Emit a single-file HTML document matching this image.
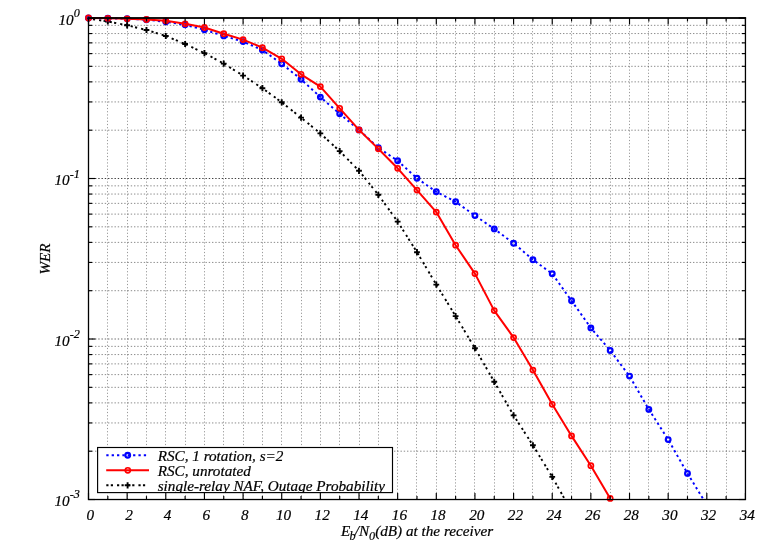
<!DOCTYPE html><html><head><meta charset="utf-8"><style>
html,body{margin:0;padding:0;background:#fff;}
svg{display:block;position:absolute;left:0;top:0;will-change:transform;}
text{font-family:"Liberation Serif",serif;font-style:italic;fill:#000;stroke:#000;stroke-width:0.2px;}
</style></head><body>
<svg width="771" height="540" viewBox="0 0 771 540">
<rect x="0" y="0" width="771" height="540" fill="#fff"/>
<g stroke="#000" stroke-width="0.46" stroke-dasharray="1.4 1.85" fill="none">
<line x1="107.50" y1="499.52" x2="107.50" y2="18.00" stroke-dasharray="1.2 2.0" stroke-width="0.4"/>
<line x1="127.50" y1="499.52" x2="127.50" y2="18.00" stroke-dasharray="1.2 2.0" stroke-width="0.4"/>
<line x1="146.50" y1="499.52" x2="146.50" y2="18.00" stroke-dasharray="1.2 2.0" stroke-width="0.4"/>
<line x1="165.50" y1="499.52" x2="165.50" y2="18.00" stroke-dasharray="1.2 2.0" stroke-width="0.4"/>
<line x1="185.50" y1="499.52" x2="185.50" y2="18.00" stroke-dasharray="1.2 2.0" stroke-width="0.4"/>
<line x1="204.50" y1="499.52" x2="204.50" y2="18.00" stroke-dasharray="1.2 2.0" stroke-width="0.4"/>
<line x1="223.50" y1="499.52" x2="223.50" y2="18.00" stroke-dasharray="1.2 2.0" stroke-width="0.4"/>
<line x1="243.50" y1="499.52" x2="243.50" y2="18.00" stroke-dasharray="1.2 2.0" stroke-width="0.4"/>
<line x1="262.50" y1="499.52" x2="262.50" y2="18.00" stroke-dasharray="1.2 2.0" stroke-width="0.4"/>
<line x1="281.50" y1="499.52" x2="281.50" y2="18.00" stroke-dasharray="1.2 2.0" stroke-width="0.4"/>
<line x1="301.50" y1="499.52" x2="301.50" y2="18.00" stroke-dasharray="1.2 2.0" stroke-width="0.4"/>
<line x1="320.50" y1="499.52" x2="320.50" y2="18.00" stroke-dasharray="1.2 2.0" stroke-width="0.4"/>
<line x1="339.50" y1="499.52" x2="339.50" y2="18.00" stroke-dasharray="1.2 2.0" stroke-width="0.4"/>
<line x1="359.50" y1="499.52" x2="359.50" y2="18.00" stroke-dasharray="1.2 2.0" stroke-width="0.4"/>
<line x1="378.50" y1="499.52" x2="378.50" y2="18.00" stroke-dasharray="1.2 2.0" stroke-width="0.4"/>
<line x1="397.50" y1="499.52" x2="397.50" y2="18.00" stroke-dasharray="1.2 2.0" stroke-width="0.4"/>
<line x1="416.50" y1="499.52" x2="416.50" y2="18.00" stroke-dasharray="1.2 2.0" stroke-width="0.4"/>
<line x1="436.50" y1="499.52" x2="436.50" y2="18.00" stroke-dasharray="1.2 2.0" stroke-width="0.4"/>
<line x1="455.50" y1="499.52" x2="455.50" y2="18.00" stroke-dasharray="1.2 2.0" stroke-width="0.4"/>
<line x1="474.50" y1="499.52" x2="474.50" y2="18.00" stroke-dasharray="1.2 2.0" stroke-width="0.4"/>
<line x1="494.50" y1="499.52" x2="494.50" y2="18.00" stroke-dasharray="1.2 2.0" stroke-width="0.4"/>
<line x1="513.50" y1="499.52" x2="513.50" y2="18.00" stroke-dasharray="1.2 2.0" stroke-width="0.4"/>
<line x1="532.50" y1="499.52" x2="532.50" y2="18.00" stroke-dasharray="1.2 2.0" stroke-width="0.4"/>
<line x1="552.50" y1="499.52" x2="552.50" y2="18.00" stroke-dasharray="1.2 2.0" stroke-width="0.4"/>
<line x1="571.50" y1="499.52" x2="571.50" y2="18.00" stroke-dasharray="1.2 2.0" stroke-width="0.4"/>
<line x1="590.50" y1="499.52" x2="590.50" y2="18.00" stroke-dasharray="1.2 2.0" stroke-width="0.4"/>
<line x1="610.50" y1="499.52" x2="610.50" y2="18.00" stroke-dasharray="1.2 2.0" stroke-width="0.4"/>
<line x1="629.50" y1="499.52" x2="629.50" y2="18.00" stroke-dasharray="1.2 2.0" stroke-width="0.4"/>
<line x1="648.50" y1="499.52" x2="648.50" y2="18.00" stroke-dasharray="1.2 2.0" stroke-width="0.4"/>
<line x1="668.50" y1="499.52" x2="668.50" y2="18.00" stroke-dasharray="1.2 2.0" stroke-width="0.4"/>
<line x1="687.50" y1="499.52" x2="687.50" y2="18.00" stroke-dasharray="1.2 2.0" stroke-width="0.4"/>
<line x1="706.50" y1="499.52" x2="706.50" y2="18.00" stroke-dasharray="1.2 2.0" stroke-width="0.4"/>
<line x1="726.50" y1="499.52" x2="726.50" y2="18.00" stroke-dasharray="1.2 2.0" stroke-width="0.4"/>
<line x1="88.50" y1="130.19" x2="745.45" y2="130.19"/>
<line x1="88.50" y1="101.93" x2="745.45" y2="101.93"/>
<line x1="88.50" y1="81.87" x2="745.45" y2="81.87"/>
<line x1="88.50" y1="66.32" x2="745.45" y2="66.32"/>
<line x1="88.50" y1="53.61" x2="745.45" y2="53.61"/>
<line x1="88.50" y1="42.86" x2="745.45" y2="42.86"/>
<line x1="88.50" y1="33.55" x2="745.45" y2="33.55"/>
<line x1="88.50" y1="25.34" x2="745.45" y2="25.34"/>
<line x1="88.50" y1="290.70" x2="745.45" y2="290.70"/>
<line x1="88.50" y1="262.43" x2="745.45" y2="262.43"/>
<line x1="88.50" y1="242.38" x2="745.45" y2="242.38"/>
<line x1="88.50" y1="226.82" x2="745.45" y2="226.82"/>
<line x1="88.50" y1="214.11" x2="745.45" y2="214.11"/>
<line x1="88.50" y1="203.37" x2="745.45" y2="203.37"/>
<line x1="88.50" y1="194.06" x2="745.45" y2="194.06"/>
<line x1="88.50" y1="185.85" x2="745.45" y2="185.85"/>
<line x1="88.50" y1="451.20" x2="745.45" y2="451.20"/>
<line x1="88.50" y1="422.94" x2="745.45" y2="422.94"/>
<line x1="88.50" y1="402.89" x2="745.45" y2="402.89"/>
<line x1="88.50" y1="387.33" x2="745.45" y2="387.33"/>
<line x1="88.50" y1="374.62" x2="745.45" y2="374.62"/>
<line x1="88.50" y1="363.88" x2="745.45" y2="363.88"/>
<line x1="88.50" y1="354.57" x2="745.45" y2="354.57"/>
<line x1="88.50" y1="346.36" x2="745.45" y2="346.36"/>
</g>
<g stroke="#000" stroke-width="0.75" stroke-dasharray="1.4 1.85" fill="none">
<line x1="88.50" y1="178.51" x2="745.45" y2="178.51"/>
<line x1="88.50" y1="339.01" x2="745.45" y2="339.01" stroke-width="0.6"/>
</g>
<polyline points="88.50,18.50 107.82,21.50 127.14,25.30 146.47,30.00 165.79,36.00 185.11,44.00 204.43,53.10 223.75,63.60 243.08,75.60 262.40,88.20 281.72,102.30 301.04,117.60 320.36,133.40 339.69,151.10 359.01,170.80 378.33,194.80 397.65,221.60 416.98,252.20 436.30,284.60 455.62,316.10 474.94,348.20 494.26,381.80 513.59,415.40 532.91,445.30 552.23,476.90 564.90,499.50" fill="none" stroke="#000" stroke-width="1.9" stroke-dasharray="2.2 2.3 2.2 4.015" stroke-dashoffset="0"/>
<path d="M85.60 18.50H91.40M88.50 15.40V21.60" stroke="#000" stroke-width="1.9" fill="none"/>
<path d="M104.92 21.50H110.72M107.82 18.40V24.60" stroke="#000" stroke-width="1.9" fill="none"/>
<path d="M124.24 25.30H130.04M127.14 22.20V28.40" stroke="#000" stroke-width="1.9" fill="none"/>
<path d="M143.57 30.00H149.37M146.47 26.90V33.10" stroke="#000" stroke-width="1.9" fill="none"/>
<path d="M162.89 36.00H168.69M165.79 32.90V39.10" stroke="#000" stroke-width="1.9" fill="none"/>
<path d="M182.21 44.00H188.01M185.11 40.90V47.10" stroke="#000" stroke-width="1.9" fill="none"/>
<path d="M201.53 53.10H207.33M204.43 50.00V56.20" stroke="#000" stroke-width="1.9" fill="none"/>
<path d="M220.85 63.60H226.65M223.75 60.50V66.70" stroke="#000" stroke-width="1.9" fill="none"/>
<path d="M240.18 75.60H245.98M243.08 72.50V78.70" stroke="#000" stroke-width="1.9" fill="none"/>
<path d="M259.50 88.20H265.30M262.40 85.10V91.30" stroke="#000" stroke-width="1.9" fill="none"/>
<path d="M278.82 102.30H284.62M281.72 99.20V105.40" stroke="#000" stroke-width="1.9" fill="none"/>
<path d="M298.14 117.60H303.94M301.04 114.50V120.70" stroke="#000" stroke-width="1.9" fill="none"/>
<path d="M317.46 133.40H323.26M320.36 130.30V136.50" stroke="#000" stroke-width="1.9" fill="none"/>
<path d="M336.79 151.10H342.59M339.69 148.00V154.20" stroke="#000" stroke-width="1.9" fill="none"/>
<path d="M356.11 170.80H361.91M359.01 167.70V173.90" stroke="#000" stroke-width="1.9" fill="none"/>
<path d="M375.43 194.80H381.23M378.33 191.70V197.90" stroke="#000" stroke-width="1.9" fill="none"/>
<path d="M394.75 221.60H400.55M397.65 218.50V224.70" stroke="#000" stroke-width="1.9" fill="none"/>
<path d="M414.08 252.20H419.88M416.98 249.10V255.30" stroke="#000" stroke-width="1.9" fill="none"/>
<path d="M433.40 284.60H439.20M436.30 281.50V287.70" stroke="#000" stroke-width="1.9" fill="none"/>
<path d="M452.72 316.10H458.52M455.62 313.00V319.20" stroke="#000" stroke-width="1.9" fill="none"/>
<path d="M472.04 348.20H477.84M474.94 345.10V351.30" stroke="#000" stroke-width="1.9" fill="none"/>
<path d="M491.36 381.80H497.16M494.26 378.70V384.90" stroke="#000" stroke-width="1.9" fill="none"/>
<path d="M510.69 415.40H516.49M513.59 412.30V418.50" stroke="#000" stroke-width="1.9" fill="none"/>
<path d="M530.01 445.30H535.81M532.91 442.20V448.40" stroke="#000" stroke-width="1.9" fill="none"/>
<path d="M549.33 476.90H555.13M552.23 473.80V480.00" stroke="#000" stroke-width="1.9" fill="none"/>
<polyline points="88.50,18.00 107.82,18.30 127.14,18.80 146.47,19.70 165.79,21.80 185.11,24.80 204.43,29.80 223.75,35.90 243.08,41.60 262.40,50.00 281.72,63.80 301.04,79.30 320.36,97.10 339.69,113.80 359.01,129.90 378.33,147.70 397.65,160.80 416.98,178.30 436.30,191.80 455.62,201.80 474.94,215.60 494.26,228.90 513.59,243.30 532.91,259.70 552.23,273.80 571.55,300.80 590.87,327.90 610.20,350.50 629.52,376.10 648.84,409.40 668.16,439.60 687.48,473.40 703.50,499.50" fill="none" stroke="#0000ff" stroke-width="1.95" stroke-dasharray="2.3 3.056" stroke-dashoffset="0.2"/>
<circle cx="88.50" cy="18.00" r="2.35" fill="none" stroke="#0000ff" stroke-width="2.2"/>
<circle cx="107.82" cy="18.30" r="2.35" fill="none" stroke="#0000ff" stroke-width="2.2"/>
<circle cx="127.14" cy="18.80" r="2.35" fill="none" stroke="#0000ff" stroke-width="2.2"/>
<circle cx="146.47" cy="19.70" r="2.35" fill="none" stroke="#0000ff" stroke-width="2.2"/>
<circle cx="165.79" cy="21.80" r="2.35" fill="none" stroke="#0000ff" stroke-width="2.2"/>
<circle cx="185.11" cy="24.80" r="2.35" fill="none" stroke="#0000ff" stroke-width="2.2"/>
<circle cx="204.43" cy="29.80" r="2.35" fill="none" stroke="#0000ff" stroke-width="2.2"/>
<circle cx="223.75" cy="35.90" r="2.35" fill="none" stroke="#0000ff" stroke-width="2.2"/>
<circle cx="243.08" cy="41.60" r="2.35" fill="none" stroke="#0000ff" stroke-width="2.2"/>
<circle cx="262.40" cy="50.00" r="2.35" fill="none" stroke="#0000ff" stroke-width="2.2"/>
<circle cx="281.72" cy="63.80" r="2.35" fill="none" stroke="#0000ff" stroke-width="2.2"/>
<circle cx="301.04" cy="79.30" r="2.35" fill="none" stroke="#0000ff" stroke-width="2.2"/>
<circle cx="320.36" cy="97.10" r="2.35" fill="none" stroke="#0000ff" stroke-width="2.2"/>
<circle cx="339.69" cy="113.80" r="2.35" fill="none" stroke="#0000ff" stroke-width="2.2"/>
<circle cx="359.01" cy="129.90" r="2.35" fill="none" stroke="#0000ff" stroke-width="2.2"/>
<circle cx="378.33" cy="147.70" r="2.35" fill="none" stroke="#0000ff" stroke-width="2.2"/>
<circle cx="397.65" cy="160.80" r="2.35" fill="none" stroke="#0000ff" stroke-width="2.2"/>
<circle cx="416.98" cy="178.30" r="2.35" fill="none" stroke="#0000ff" stroke-width="2.2"/>
<circle cx="436.30" cy="191.80" r="2.35" fill="none" stroke="#0000ff" stroke-width="2.2"/>
<circle cx="455.62" cy="201.80" r="2.35" fill="none" stroke="#0000ff" stroke-width="2.2"/>
<circle cx="474.94" cy="215.60" r="2.35" fill="none" stroke="#0000ff" stroke-width="2.2"/>
<circle cx="494.26" cy="228.90" r="2.35" fill="none" stroke="#0000ff" stroke-width="2.2"/>
<circle cx="513.59" cy="243.30" r="2.35" fill="none" stroke="#0000ff" stroke-width="2.2"/>
<circle cx="532.91" cy="259.70" r="2.35" fill="none" stroke="#0000ff" stroke-width="2.2"/>
<circle cx="552.23" cy="273.80" r="2.35" fill="none" stroke="#0000ff" stroke-width="2.2"/>
<circle cx="571.55" cy="300.80" r="2.35" fill="none" stroke="#0000ff" stroke-width="2.2"/>
<circle cx="590.87" cy="327.90" r="2.35" fill="none" stroke="#0000ff" stroke-width="2.2"/>
<circle cx="610.20" cy="350.50" r="2.35" fill="none" stroke="#0000ff" stroke-width="2.2"/>
<circle cx="629.52" cy="376.10" r="2.35" fill="none" stroke="#0000ff" stroke-width="2.2"/>
<circle cx="648.84" cy="409.40" r="2.35" fill="none" stroke="#0000ff" stroke-width="2.2"/>
<circle cx="668.16" cy="439.60" r="2.35" fill="none" stroke="#0000ff" stroke-width="2.2"/>
<circle cx="687.48" cy="473.40" r="2.35" fill="none" stroke="#0000ff" stroke-width="2.2"/>
<polyline points="88.50,18.00 107.82,18.30 127.14,18.80 146.47,19.50 165.79,20.80 185.11,23.80 204.43,27.50 223.75,33.70 243.08,39.60 262.40,47.70 281.72,58.80 301.04,74.30 320.36,86.60 339.69,108.30 359.01,129.90 378.33,148.80 397.65,168.30 416.98,190.10 436.30,212.10 455.62,245.20 474.94,273.60 494.26,310.60 513.59,337.60 532.91,370.10 552.23,404.30 571.55,435.90 590.87,465.70 610.20,498.40" fill="none" stroke="#ff0000" stroke-width="2.0" stroke-linejoin="round"/>
<circle cx="88.50" cy="18.00" r="2.55" fill="none" stroke="#ff0000" stroke-width="1.7"/>
<circle cx="107.82" cy="18.30" r="2.55" fill="none" stroke="#ff0000" stroke-width="1.7"/>
<circle cx="127.14" cy="18.80" r="2.55" fill="none" stroke="#ff0000" stroke-width="1.7"/>
<circle cx="146.47" cy="19.50" r="2.55" fill="none" stroke="#ff0000" stroke-width="1.7"/>
<circle cx="165.79" cy="20.80" r="2.55" fill="none" stroke="#ff0000" stroke-width="1.7"/>
<circle cx="185.11" cy="23.80" r="2.55" fill="none" stroke="#ff0000" stroke-width="1.7"/>
<circle cx="204.43" cy="27.50" r="2.55" fill="none" stroke="#ff0000" stroke-width="1.7"/>
<circle cx="223.75" cy="33.70" r="2.55" fill="none" stroke="#ff0000" stroke-width="1.7"/>
<circle cx="243.08" cy="39.60" r="2.55" fill="none" stroke="#ff0000" stroke-width="1.7"/>
<circle cx="262.40" cy="47.70" r="2.55" fill="none" stroke="#ff0000" stroke-width="1.7"/>
<circle cx="281.72" cy="58.80" r="2.55" fill="none" stroke="#ff0000" stroke-width="1.7"/>
<circle cx="301.04" cy="74.30" r="2.55" fill="none" stroke="#ff0000" stroke-width="1.7"/>
<circle cx="320.36" cy="86.60" r="2.55" fill="none" stroke="#ff0000" stroke-width="1.7"/>
<circle cx="339.69" cy="108.30" r="2.55" fill="none" stroke="#ff0000" stroke-width="1.7"/>
<circle cx="359.01" cy="129.90" r="2.55" fill="none" stroke="#ff0000" stroke-width="1.7"/>
<circle cx="378.33" cy="148.80" r="2.55" fill="none" stroke="#ff0000" stroke-width="1.7"/>
<circle cx="397.65" cy="168.30" r="2.55" fill="none" stroke="#ff0000" stroke-width="1.7"/>
<circle cx="416.98" cy="190.10" r="2.55" fill="none" stroke="#ff0000" stroke-width="1.7"/>
<circle cx="436.30" cy="212.10" r="2.55" fill="none" stroke="#ff0000" stroke-width="1.7"/>
<circle cx="455.62" cy="245.20" r="2.55" fill="none" stroke="#ff0000" stroke-width="1.7"/>
<circle cx="474.94" cy="273.60" r="2.55" fill="none" stroke="#ff0000" stroke-width="1.7"/>
<circle cx="494.26" cy="310.60" r="2.55" fill="none" stroke="#ff0000" stroke-width="1.7"/>
<circle cx="513.59" cy="337.60" r="2.55" fill="none" stroke="#ff0000" stroke-width="1.7"/>
<circle cx="532.91" cy="370.10" r="2.55" fill="none" stroke="#ff0000" stroke-width="1.7"/>
<circle cx="552.23" cy="404.30" r="2.55" fill="none" stroke="#ff0000" stroke-width="1.7"/>
<circle cx="571.55" cy="435.90" r="2.55" fill="none" stroke="#ff0000" stroke-width="1.7"/>
<circle cx="590.87" cy="465.70" r="2.55" fill="none" stroke="#ff0000" stroke-width="1.7"/>
<circle cx="610.20" cy="498.40" r="2.55" fill="none" stroke="#ff0000" stroke-width="1.7"/>
<g stroke="#000" stroke-width="1.15" fill="none">
<line x1="88.50" y1="499.52" x2="88.50" y2="493.02"/>
<line x1="88.50" y1="18.00" x2="88.50" y2="24.50"/>
<line x1="107.82" y1="499.52" x2="107.82" y2="496.12"/>
<line x1="107.82" y1="18.00" x2="107.82" y2="21.40"/>
<line x1="127.14" y1="499.52" x2="127.14" y2="493.02"/>
<line x1="127.14" y1="18.00" x2="127.14" y2="24.50"/>
<line x1="146.47" y1="499.52" x2="146.47" y2="496.12"/>
<line x1="146.47" y1="18.00" x2="146.47" y2="21.40"/>
<line x1="165.79" y1="499.52" x2="165.79" y2="493.02"/>
<line x1="165.79" y1="18.00" x2="165.79" y2="24.50"/>
<line x1="185.11" y1="499.52" x2="185.11" y2="496.12"/>
<line x1="185.11" y1="18.00" x2="185.11" y2="21.40"/>
<line x1="204.43" y1="499.52" x2="204.43" y2="493.02"/>
<line x1="204.43" y1="18.00" x2="204.43" y2="24.50"/>
<line x1="223.75" y1="499.52" x2="223.75" y2="496.12"/>
<line x1="223.75" y1="18.00" x2="223.75" y2="21.40"/>
<line x1="243.08" y1="499.52" x2="243.08" y2="493.02"/>
<line x1="243.08" y1="18.00" x2="243.08" y2="24.50"/>
<line x1="262.40" y1="499.52" x2="262.40" y2="496.12"/>
<line x1="262.40" y1="18.00" x2="262.40" y2="21.40"/>
<line x1="281.72" y1="499.52" x2="281.72" y2="493.02"/>
<line x1="281.72" y1="18.00" x2="281.72" y2="24.50"/>
<line x1="301.04" y1="499.52" x2="301.04" y2="496.12"/>
<line x1="301.04" y1="18.00" x2="301.04" y2="21.40"/>
<line x1="320.36" y1="499.52" x2="320.36" y2="493.02"/>
<line x1="320.36" y1="18.00" x2="320.36" y2="24.50"/>
<line x1="339.69" y1="499.52" x2="339.69" y2="496.12"/>
<line x1="339.69" y1="18.00" x2="339.69" y2="21.40"/>
<line x1="359.01" y1="499.52" x2="359.01" y2="493.02"/>
<line x1="359.01" y1="18.00" x2="359.01" y2="24.50"/>
<line x1="378.33" y1="499.52" x2="378.33" y2="496.12"/>
<line x1="378.33" y1="18.00" x2="378.33" y2="21.40"/>
<line x1="397.65" y1="499.52" x2="397.65" y2="493.02"/>
<line x1="397.65" y1="18.00" x2="397.65" y2="24.50"/>
<line x1="416.98" y1="499.52" x2="416.98" y2="496.12"/>
<line x1="416.98" y1="18.00" x2="416.98" y2="21.40"/>
<line x1="436.30" y1="499.52" x2="436.30" y2="493.02"/>
<line x1="436.30" y1="18.00" x2="436.30" y2="24.50"/>
<line x1="455.62" y1="499.52" x2="455.62" y2="496.12"/>
<line x1="455.62" y1="18.00" x2="455.62" y2="21.40"/>
<line x1="474.94" y1="499.52" x2="474.94" y2="493.02"/>
<line x1="474.94" y1="18.00" x2="474.94" y2="24.50"/>
<line x1="494.26" y1="499.52" x2="494.26" y2="496.12"/>
<line x1="494.26" y1="18.00" x2="494.26" y2="21.40"/>
<line x1="513.59" y1="499.52" x2="513.59" y2="493.02"/>
<line x1="513.59" y1="18.00" x2="513.59" y2="24.50"/>
<line x1="532.91" y1="499.52" x2="532.91" y2="496.12"/>
<line x1="532.91" y1="18.00" x2="532.91" y2="21.40"/>
<line x1="552.23" y1="499.52" x2="552.23" y2="493.02"/>
<line x1="552.23" y1="18.00" x2="552.23" y2="24.50"/>
<line x1="571.55" y1="499.52" x2="571.55" y2="496.12"/>
<line x1="571.55" y1="18.00" x2="571.55" y2="21.40"/>
<line x1="590.87" y1="499.52" x2="590.87" y2="493.02"/>
<line x1="590.87" y1="18.00" x2="590.87" y2="24.50"/>
<line x1="610.20" y1="499.52" x2="610.20" y2="496.12"/>
<line x1="610.20" y1="18.00" x2="610.20" y2="21.40"/>
<line x1="629.52" y1="499.52" x2="629.52" y2="493.02"/>
<line x1="629.52" y1="18.00" x2="629.52" y2="24.50"/>
<line x1="648.84" y1="499.52" x2="648.84" y2="496.12"/>
<line x1="648.84" y1="18.00" x2="648.84" y2="21.40"/>
<line x1="668.16" y1="499.52" x2="668.16" y2="493.02"/>
<line x1="668.16" y1="18.00" x2="668.16" y2="24.50"/>
<line x1="687.48" y1="499.52" x2="687.48" y2="496.12"/>
<line x1="687.48" y1="18.00" x2="687.48" y2="21.40"/>
<line x1="706.81" y1="499.52" x2="706.81" y2="493.02"/>
<line x1="706.81" y1="18.00" x2="706.81" y2="24.50"/>
<line x1="726.13" y1="499.52" x2="726.13" y2="496.12"/>
<line x1="726.13" y1="18.00" x2="726.13" y2="21.40"/>
<line x1="745.45" y1="499.52" x2="745.45" y2="493.02"/>
<line x1="745.45" y1="18.00" x2="745.45" y2="24.50"/>
<line x1="88.50" y1="18.00" x2="95.30" y2="18.00"/>
<line x1="745.45" y1="18.00" x2="738.65" y2="18.00"/>
<line x1="88.50" y1="130.19" x2="92.10" y2="130.19"/>
<line x1="745.45" y1="130.19" x2="741.85" y2="130.19"/>
<line x1="88.50" y1="101.93" x2="92.10" y2="101.93"/>
<line x1="745.45" y1="101.93" x2="741.85" y2="101.93"/>
<line x1="88.50" y1="81.87" x2="92.10" y2="81.87"/>
<line x1="745.45" y1="81.87" x2="741.85" y2="81.87"/>
<line x1="88.50" y1="66.32" x2="92.10" y2="66.32"/>
<line x1="745.45" y1="66.32" x2="741.85" y2="66.32"/>
<line x1="88.50" y1="53.61" x2="92.10" y2="53.61"/>
<line x1="745.45" y1="53.61" x2="741.85" y2="53.61"/>
<line x1="88.50" y1="42.86" x2="92.10" y2="42.86"/>
<line x1="745.45" y1="42.86" x2="741.85" y2="42.86"/>
<line x1="88.50" y1="33.55" x2="92.10" y2="33.55"/>
<line x1="745.45" y1="33.55" x2="741.85" y2="33.55"/>
<line x1="88.50" y1="25.34" x2="92.10" y2="25.34"/>
<line x1="745.45" y1="25.34" x2="741.85" y2="25.34"/>
<line x1="88.50" y1="178.51" x2="95.30" y2="178.51"/>
<line x1="745.45" y1="178.51" x2="738.65" y2="178.51"/>
<line x1="88.50" y1="290.70" x2="92.10" y2="290.70"/>
<line x1="745.45" y1="290.70" x2="741.85" y2="290.70"/>
<line x1="88.50" y1="262.43" x2="92.10" y2="262.43"/>
<line x1="745.45" y1="262.43" x2="741.85" y2="262.43"/>
<line x1="88.50" y1="242.38" x2="92.10" y2="242.38"/>
<line x1="745.45" y1="242.38" x2="741.85" y2="242.38"/>
<line x1="88.50" y1="226.82" x2="92.10" y2="226.82"/>
<line x1="745.45" y1="226.82" x2="741.85" y2="226.82"/>
<line x1="88.50" y1="214.11" x2="92.10" y2="214.11"/>
<line x1="745.45" y1="214.11" x2="741.85" y2="214.11"/>
<line x1="88.50" y1="203.37" x2="92.10" y2="203.37"/>
<line x1="745.45" y1="203.37" x2="741.85" y2="203.37"/>
<line x1="88.50" y1="194.06" x2="92.10" y2="194.06"/>
<line x1="745.45" y1="194.06" x2="741.85" y2="194.06"/>
<line x1="88.50" y1="185.85" x2="92.10" y2="185.85"/>
<line x1="745.45" y1="185.85" x2="741.85" y2="185.85"/>
<line x1="88.50" y1="339.01" x2="95.30" y2="339.01"/>
<line x1="745.45" y1="339.01" x2="738.65" y2="339.01"/>
<line x1="88.50" y1="451.20" x2="92.10" y2="451.20"/>
<line x1="745.45" y1="451.20" x2="741.85" y2="451.20"/>
<line x1="88.50" y1="422.94" x2="92.10" y2="422.94"/>
<line x1="745.45" y1="422.94" x2="741.85" y2="422.94"/>
<line x1="88.50" y1="402.89" x2="92.10" y2="402.89"/>
<line x1="745.45" y1="402.89" x2="741.85" y2="402.89"/>
<line x1="88.50" y1="387.33" x2="92.10" y2="387.33"/>
<line x1="745.45" y1="387.33" x2="741.85" y2="387.33"/>
<line x1="88.50" y1="374.62" x2="92.10" y2="374.62"/>
<line x1="745.45" y1="374.62" x2="741.85" y2="374.62"/>
<line x1="88.50" y1="363.88" x2="92.10" y2="363.88"/>
<line x1="745.45" y1="363.88" x2="741.85" y2="363.88"/>
<line x1="88.50" y1="354.57" x2="92.10" y2="354.57"/>
<line x1="745.45" y1="354.57" x2="741.85" y2="354.57"/>
<line x1="88.50" y1="346.36" x2="92.10" y2="346.36"/>
<line x1="745.45" y1="346.36" x2="741.85" y2="346.36"/>
<line x1="88.50" y1="499.52" x2="95.30" y2="499.52"/>
<line x1="745.45" y1="499.52" x2="738.65" y2="499.52"/>
</g>
<rect x="88.50" y="18.00" width="656.95" height="481.52" fill="none" stroke="#000" stroke-width="1.3"/>
<line x1="87.85" y1="18.00" x2="746.10" y2="18.00" stroke="#000" stroke-width="1.5"/>
<text x="90.30" y="519.9" font-size="15.2" text-anchor="middle">0</text>
<text x="128.94" y="519.9" font-size="15.2" text-anchor="middle">2</text>
<text x="167.59" y="519.9" font-size="15.2" text-anchor="middle">4</text>
<text x="206.23" y="519.9" font-size="15.2" text-anchor="middle">6</text>
<text x="244.88" y="519.9" font-size="15.2" text-anchor="middle">8</text>
<text x="283.52" y="519.9" font-size="15.2" text-anchor="middle">10</text>
<text x="322.16" y="519.9" font-size="15.2" text-anchor="middle">12</text>
<text x="360.81" y="519.9" font-size="15.2" text-anchor="middle">14</text>
<text x="399.45" y="519.9" font-size="15.2" text-anchor="middle">16</text>
<text x="438.10" y="519.9" font-size="15.2" text-anchor="middle">18</text>
<text x="476.74" y="519.9" font-size="15.2" text-anchor="middle">20</text>
<text x="515.39" y="519.9" font-size="15.2" text-anchor="middle">22</text>
<text x="554.03" y="519.9" font-size="15.2" text-anchor="middle">24</text>
<text x="592.67" y="519.9" font-size="15.2" text-anchor="middle">26</text>
<text x="631.32" y="519.9" font-size="15.2" text-anchor="middle">28</text>
<text x="669.96" y="519.9" font-size="15.2" text-anchor="middle">30</text>
<text x="708.61" y="519.9" font-size="15.2" text-anchor="middle">32</text>
<text x="747.25" y="519.9" font-size="15.2" text-anchor="middle">34</text>
<text x="79.8" y="24.90" font-size="15.2" text-anchor="end">10<tspan font-size="12.2" dy="-7.7">0</tspan></text>
<text x="79.8" y="185.41" font-size="15.2" text-anchor="end">10<tspan font-size="12.2" dy="-7.7">-1</tspan></text>
<text x="79.8" y="345.81" font-size="15.2" text-anchor="end">10<tspan font-size="12.2" dy="-7.7">-2</tspan></text>
<text x="79.8" y="505.82" font-size="15.2" text-anchor="end">10<tspan font-size="12.2" dy="-7.7">-3</tspan></text>
<text transform="translate(50.1,259.0) rotate(-90)" font-size="15.2" text-anchor="middle">WER</text>
<text x="417" y="536.2" font-size="15.2" text-anchor="middle">E<tspan font-size="12.2" dy="3.5" dx="-0.8">b</tspan><tspan dy="-3.5" dx="-0.8">/N</tspan><tspan font-size="12.2" dy="3.5">0</tspan><tspan dy="-3.5">(dB) at the receiver</tspan></text>
<rect x="97.6" y="447.5" width="294.9" height="45.1" fill="#fff" stroke="#000" stroke-width="1.15"/>
<line x1="106.3" y1="455.3" x2="148.2" y2="455.3" stroke="#0000ff" stroke-width="1.95" stroke-dasharray="2.3 3.056"/>
<circle cx="127.70" cy="455.30" r="2.35" fill="none" stroke="#0000ff" stroke-width="2.2"/>
<line x1="106.2" y1="470.3" x2="149.0" y2="470.3" stroke="#ff0000" stroke-width="2"/>
<circle cx="127.80" cy="470.30" r="2.55" fill="none" stroke="#ff0000" stroke-width="1.7"/>
<line x1="106.3" y1="485.3" x2="148.2" y2="485.3" stroke="#000" stroke-width="1.9" stroke-dasharray="2.2 2.3 2.2 4.015"/>
<path d="M124.70 485.30H130.50M127.60 482.20V488.40" stroke="#000" stroke-width="1.9" fill="none"/>
<clipPath id="lc"><rect x="96.9" y="447.7" width="295.1" height="44.6"/></clipPath>
<g clip-path="url(#lc)">
<text x="157.7" y="460.7" font-size="15.2">RSC, 1 rotation, s=2</text>
<text x="157.7" y="475.7" font-size="15.2">RSC, unrotated</text>
<text x="157.7" y="490.7" font-size="15.2">single-relay NAF, Outage Probability</text>
</g>
</svg></body></html>
